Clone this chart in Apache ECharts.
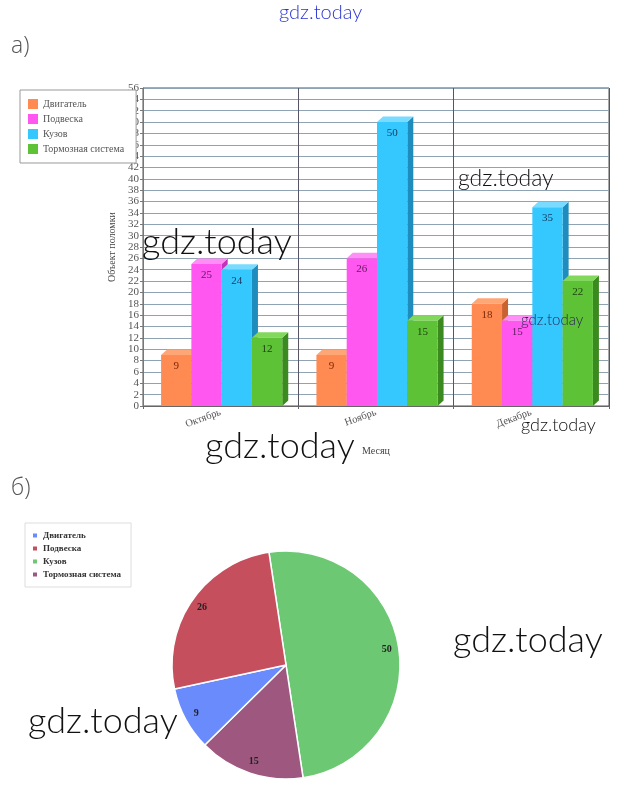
<!DOCTYPE html>
<html><head><meta charset="utf-8">
<script src="https://cdn.jsdelivr.net/npm/echarts@6/dist/echarts.min.js"></script>
<style>
body{margin:0;background:#fff;width:639px;height:799px;overflow:hidden;position:relative}
#bar{position:absolute;left:0;top:0;width:639px;height:470px}
#pie{position:absolute;left:0;top:470px;width:639px;height:329px}
.wm{position:absolute;font-family:Lato,'Open Sans',sans-serif;font-weight:300;color:#111;white-space:nowrap;line-height:1;pointer-events:none;z-index:10}
.lbl{position:absolute;font-family:'Open Sans',sans-serif;font-weight:300;color:#555;font-size:23px;line-height:1}
</style></head><body>
<div id="bar"></div><div id="pie"></div>
<div class="lbl" style="left:11px;top:33px">а)</div>
<div class="lbl" style="left:11px;top:475px">б)</div>
<div class="wm" style="left:279px;top:1px;font-size:20px;color:#2a35d0">gdz.today</div>
<div class="wm" style="left:142px;top:222px;font-size:36px">gdz.today</div>
<div class="wm" style="left:458px;top:166px;font-size:23px">gdz.today</div>
<div class="wm" style="left:205px;top:426px;font-size:36px">gdz.today</div>
<div class="wm" style="left:521px;top:312px;font-size:15px;color:#2a2a55">gdz.today</div>
<div class="wm" style="left:521px;top:415px;font-size:18px">gdz.today</div>
<div class="wm" style="left:453px;top:620px;font-size:36px">gdz.today</div>
<div class="wm" style="left:28px;top:701px;font-size:36px">gdz.today</div>
<script>
// ---- data ----
const months = ['Октябрь', 'Ноябрь', 'Декабрь'];
const seriesNames = ['Двигатель', 'Подвеска', 'Кузов', 'Тормозная система'];
const engine = [9, 9, 18];
const suspension = [25, 26, 15];
const bodyVals = [24, 50, 35];
const brakes = [12, 15, 22];
const yMin = 0, yMax = 56, yStep = 2;

const pieNames = ['Кузов', 'Тормозная система', 'Двигатель', 'Подвеска'];
const pieValues = [50, 15, 9, 26];
const pieLegendOrder = ['Двигатель', 'Подвеска', 'Кузов', 'Тормозная система'];

// ---- styles ----
const serif = "'Liberation Serif', 'DejaVu Serif', serif";
const barStyles = [
  {front:'#FF8A52', side:'#C9622E', top:'#FFA676', label:'#7a2a0a'},
  {front:'#FF57F0', side:'#C233B8', top:'#FF8EF6', label:'#5e1a60'},
  {front:'#35C8FF', side:'#1E8CBC', top:'#79DBFF', label:'#17385e'},
  {front:'#5EC236', side:'#3B8A1F', top:'#82D85C', label:'#1c4410'}
];
const barData = [engine, suspension, bodyVals, brakes];

function makeRender(s){
  const st = barStyles[s];
  return function(params, api){
    const j = api.value(0), v = api.value(1);
    const base = api.coord([j, 0]);
    const tp = api.coord([j, v]);
    const band = api.size([1, 0])[0];
    const w = band * 0.195;
    const d = 6, dy = 5.5;
    const x0 = base[0] - 2 * w + 1 + s * w;
    const x1 = x0 + w;
    const yT = tp[1], yB = base[1];
    return {type:'group', children:[
      {type:'polygon', shape:{points:[[x1,yT],[x1+d,yT-dy],[x1+d,yB-dy],[x1,yB]]}, style:{fill:st.side}},
      {type:'polygon', shape:{points:[[x0,yT],[x0+d,yT-dy],[x1+d,yT-dy],[x1,yT]]}, style:{fill:st.top}},
      {type:'rect', shape:{x:x0, y:yT, width:w, height:yB-yT}, style:{fill:st.front}},
      {type:'text', style:{text:String(v), x:(x0+x1)/2, y:yT+11, align:'center', verticalAlign:'middle', fill:st.label, font:'11px ' + serif}}
    ]};
  };
}

const barChart = echarts.init(document.getElementById('bar'));
barChart.setOption({
  animation:false,
  legend:{
    orient:'vertical', left:20, top:90, icon:'rect', itemWidth:10, itemHeight:10, itemGap:5,
    padding:[9,12,9,8], borderColor:'#999', borderWidth:1, backgroundColor:'#fff',
    textStyle:{fontFamily:serif, fontSize:10, color:'#555'},
    data:seriesNames
  },
  grid:{left:143, top:88, width:466, height:318, show:true, borderColor:'#555', borderWidth:1},
  xAxis:{
    type:'category', data:months,
    axisLine:{lineStyle:{color:'#666'}},
    axisTick:{show:true, length:3, lineStyle:{color:'#666'}},
    axisLabel:{rotate:20, interval:0, margin:6, fontFamily:serif, fontSize:10.5, color:'#555'},
    splitLine:{show:true, lineStyle:{color:'#556'}},
    name:'Месяц', nameLocation:'middle', nameGap:40,
    nameTextStyle:{fontFamily:serif, fontSize:10, color:'#444'}
  },
  yAxis:{
    type:'value', min:yMin, max:yMax, interval:yStep,
    axisLine:{show:true, lineStyle:{color:'#777'}},
    axisTick:{show:true, length:3, lineStyle:{color:'#777'}},
    axisLabel:{margin:4, fontFamily:serif, fontSize:11, color:'#555'},
    splitLine:{lineStyle:{color:'#8fa3b3'}},
    name:'Объект поломки', nameLocation:'middle', nameGap:22,
    nameTextStyle:{fontFamily:serif, fontSize:10, color:'#444'}
  },
  series: seriesNames.map((n, s) => ({
    type:'custom', name:n, renderItem:makeRender(s),
    itemStyle:{color:barStyles[s].front},
    encode:{x:0, y:1},
    data: barData[s].map((v, j) => [j, v])
  }))
});

const pieColors = {'Двигатель':'#6A8BFC', 'Подвеска':'#C64F5E', 'Кузов':'#6CC873', 'Тормозная система':'#9E5880'};
const pieChart = echarts.init(document.getElementById('pie'));
pieChart.setOption({
  animation:false,
  legend:{
    orient:'vertical', left:25, top:53, icon:'rect', itemWidth:6, itemHeight:6, itemGap:4,
    padding:[8,10,8,6], borderColor:'#ddd', borderWidth:1,
    textStyle:{fontFamily:serif, fontSize:9, fontWeight:'bold', color:'#333'},
    data:pieLegendOrder
  },
  series:[
    {
      type:'pie', center:[286,195], radius:114, startAngle:98.6, clockwise:true,
      label:{show:false}, labelLine:{show:false},
      itemStyle:{borderColor:'#fff', borderWidth:1.5},
      emphasis:{disabled:true},
      data: pieNames.map((n, i) => ({name:n, value:pieValues[i], itemStyle:{color:pieColors[n]}}))
    },
    {
      type:'pie', center:[286,195], radius:[0,198], startAngle:98.6, clockwise:true, silent:true,
      avoidLabelOverlap:false,
      itemStyle:{color:'rgba(0,0,0,0)'},
      label:{show:true, position:'inner', formatter:'{c}', fontFamily:serif, fontSize:10, fontWeight:'bold', color:'#222'},
      labelLine:{show:false},
      emphasis:{disabled:true},
      legendHoverLink:false,
      data: pieNames.map((n, i) => ({name:n, value:pieValues[i]}))
    }
  ]
});
</script>
</body></html>
